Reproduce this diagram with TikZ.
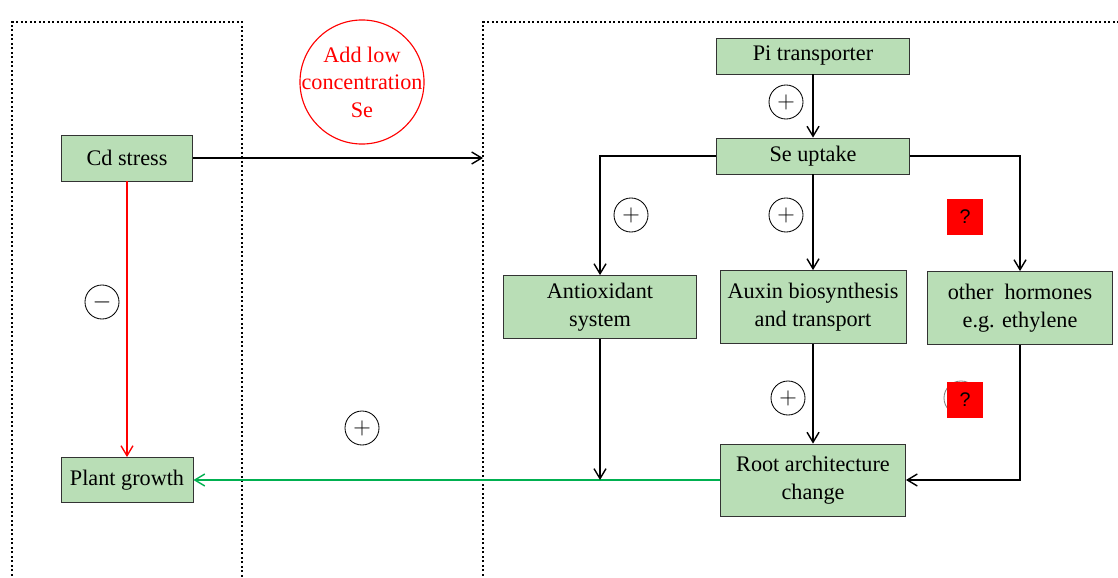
\documentclass[tikz,border=0pt]{standalone}
\usepackage{fontspec}
\setmainfont{Liberation Serif}
\newfontfamily\qfont{Liberation Sans}
\usetikzlibrary{arrows.meta,positioning}
\definecolor{boxgreen}{RGB}{185,222,182}
\definecolor{linegreen}{RGB}{0,176,80}
\tikzset{
  box/.style={draw=black!80,fill=boxgreen,line width=0.6pt,align=center,inner sep=0pt,
    font=\fontsize{15.8}{19.5}\selectfont},
  sign/.style={draw,circle,minimum size=0.85cm,inner sep=0pt,line width=0.6pt,
    font=\fontsize{16}{16}\selectfont},
  qbox/.style={fill=red,minimum size=0.92cm,inner sep=0pt,font=\qfont\fontsize{14}{14}\selectfont},
  flow/.style={line width=1pt,-{Straight Barb[length=2.5mm,width=3mm]}},
  frame/.style={dotted,line width=1.2pt}
}
\begin{document}
\begin{tikzpicture}[x=0.025cm,y=-0.025cm]
  \useasboundingbox[fill=white] (0,0) rectangle (1118,578);
  % dotted frames
  \draw[frame] (12,580) -- (12,22) -- (242,22) -- (242,580);
  \draw[frame] (483,580) -- (483,22) -- (1120,22);
  \coordinate (seam) at (483,300);
  % red circle
  \node[text=red,align=center,inner sep=0pt,
    font=\fontsize{15.8}{19.5}\selectfont] (addse) at (362,82) {Add low\\concentration\\Se};
  \draw[red,line width=0.8pt] (addse.center) circle (1.55cm);
  % left part
  \node[box,minimum width=3.275cm,minimum height=1.15cm] (cd) at (127,158) {Cd stress};
  \node[box,minimum width=3.3cm,minimum height=1.125cm] (growth) at (127,480) {Plant growth};
  \node[sign] (minus) at (102,302) {$-$};
  \node[sign] (plusmid) at (362,428) {$+$};
  % right part
  \node[box,minimum width=4.825cm,minimum height=0.9cm] (pi) at (813,56) {Pi transporter};
  \node[box,minimum width=4.825cm,minimum height=0.9cm] (se) at (813,156) {Se uptake};
  \node[box,minimum width=4.825cm,minimum height=1.575cm] (anti) at (600,307) {Antioxidant\\system};
  \node[box,minimum width=4.65cm,minimum height=1.825cm] (auxin) at (813,307) {Auxin biosynthesis\\and transport};
  \node[box,minimum width=4.625cm,minimum height=1.825cm] (other) at (1020,308) {other\ \ hormones\\e.g. ethylene};
  \node[box,minimum width=4.625cm,minimum height=1.8cm] (root) at (813,480) {Root architecture\\change};
  \node[sign] (plusse) at (786,102) {$+$};
  \node[sign] (plusanti) at (631,215) {$+$};
  \node[sign] (plusauxin) at (786,215) {$+$};
  \node[sign] (plusroot) at (788,398) {$+$};
  \node[qbox] (qother) at (965,217) {?};
  \node[sign,draw=black!50] (plushid) at (961,398) {};
  \node[qbox] (qroot) at (965,400) {?};
  % connectors
  \draw[flow] (cd.east) -- (cd.east -| seam);
  \draw[flow,red] (cd) -- (growth);
  \draw[flow] (pi) -- (se);
  \draw[flow] (se.west) -| (anti.north);
  \draw[flow] (se) -- (auxin);
  \draw[flow] (se.east) -| (other.north);
  \draw[flow] (auxin) -- (root);
  \draw[flow] (other.south) |- (root.east);
  \draw[flow,linegreen] (root.west) -- (growth.east);
  \draw[flow] (anti.south) -- (anti.south |- root.west);
\end{tikzpicture}
\end{document}
